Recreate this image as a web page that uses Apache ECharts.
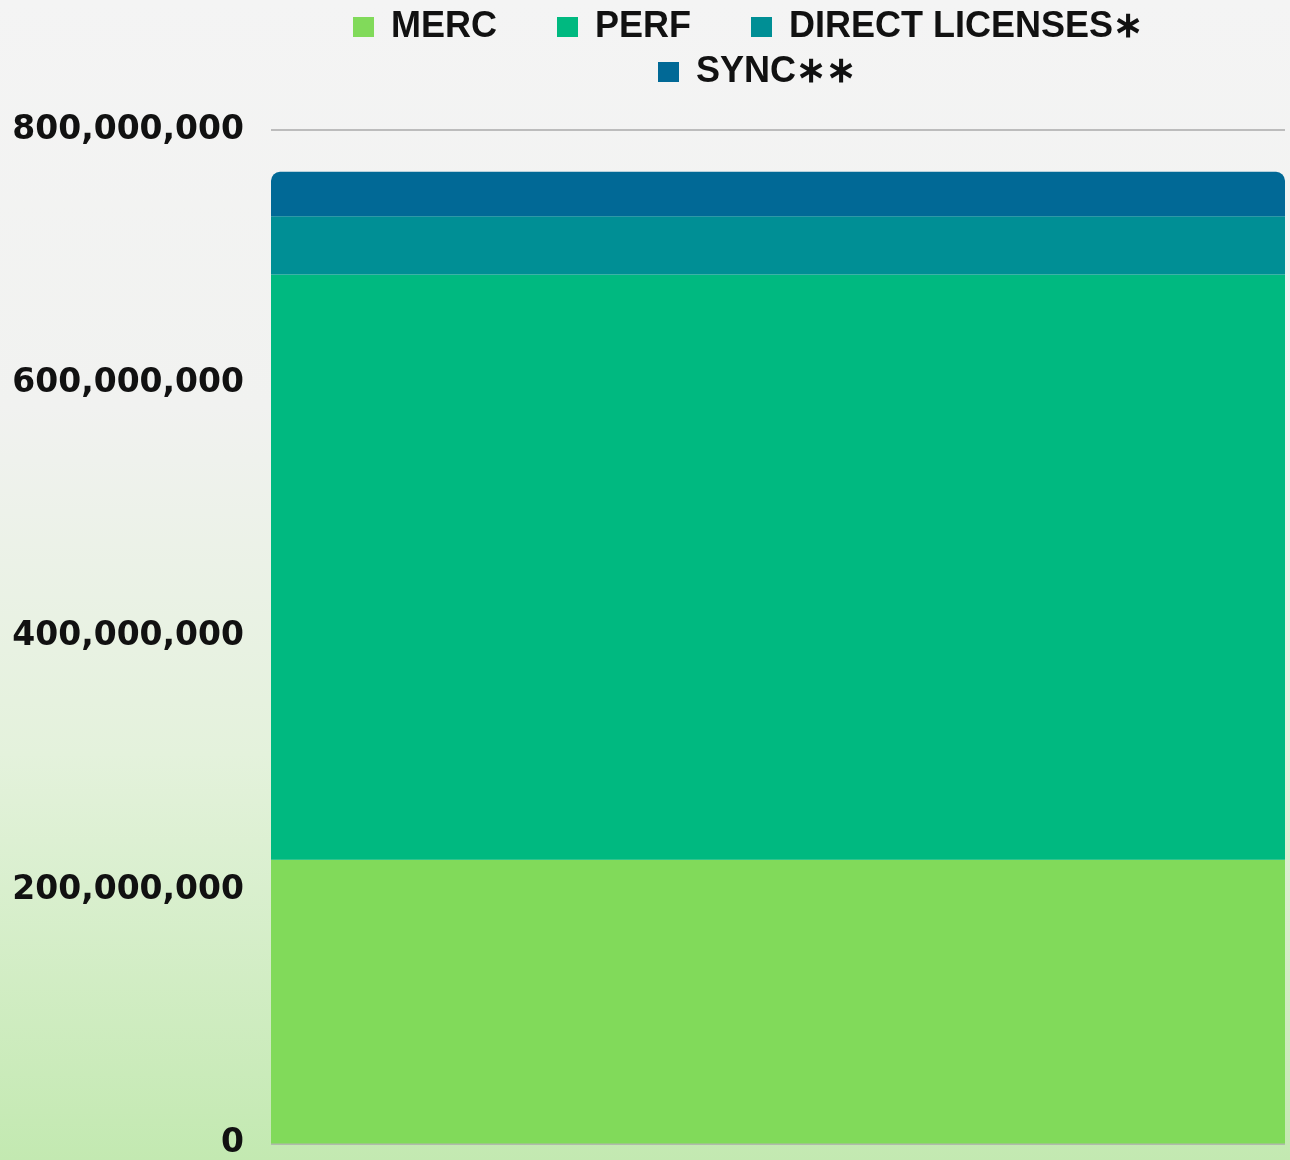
<!DOCTYPE html>
<html>
<head>
<meta charset="utf-8">
<script src="https://cdn.jsdelivr.net/npm/echarts@6/dist/echarts.min.js"></script>
<style>
  html, body { margin: 0; padding: 0; }
  body {
    width: 1290px; height: 1160px;
    background: linear-gradient(to bottom, #f4f4f4 0%, #f1f2f0 35%, #e4f2dc 65%, #c3e9b1 100%);
  }
  #chart { width: 1290px; height: 1160px; }
</style>
</head>
<body>
<div id="chart"></div>
<script>
const categories = ['Total'];
const seriesNames = ['MERC', 'PERF', 'DIRECT LICENSES∗', 'SYNC∗∗'];
const merc = [224000000];
const perf = [462000000];
const direct = [46000000];
const sync = [35000000];
const colors = ['#81da5a', '#00b980', '#008f95', '#016996'];

const chart = echarts.init(document.getElementById('chart'));

const legendText = {
  fontFamily: "'Liberation Sans Narrow', 'Liberation Sans', sans-serif",
  fontWeight: 'bold',
  fontSize: 36,
  color: '#111',
  padding: [0, 0, 0, 12]
};

var option = {
  color: colors,
  legend: [{
    data: seriesNames.slice(0, 3),
    left: 348,
    top: 4,
    itemWidth: 21,
    itemHeight: 20,
    itemGap: 60,
    icon: 'rect',
    textStyle: legendText
  }, {
    data: seriesNames.slice(3),
    left: 653,
    top: 49,
    itemWidth: 21,
    itemHeight: 20,
    icon: 'rect',
    textStyle: legendText
  }],
  grid: {
    left: 271,
    right: 5,
    top: 130,
    bottom: 16,
    containLabel: false
  },
  xAxis: {
    type: 'category',
    data: categories,
    axisLine: { show: false },
    axisTick: { show: false },
    axisLabel: { show: false }
  },
  yAxis: {
    type: 'value',
    min: 0,
    max: 800000000,
    interval: 200000000,
    axisLine: { show: false },
    axisTick: { show: false },
    splitLine: {
      lineStyle: { color: '#aaaaaa', width: 1.5 }
    },
    axisLabel: {
      margin: 27,
      fontFamily: "'DejaVu Sans', sans-serif",
      fontWeight: 'bold',
      fontSize: 33,
      color: '#111',
      formatter: function (v) {
        return v.toLocaleString('en-US');
      }
    }
  },
  series: [
    { name: seriesNames[0], type: 'bar', stack: 'total', data: merc, barWidth: '100%' },
    { name: seriesNames[1], type: 'bar', stack: 'total', data: perf },
    { name: seriesNames[2], type: 'bar', stack: 'total', data: direct },
    { name: seriesNames[3], type: 'bar', stack: 'total', data: sync,
      itemStyle: { borderRadius: [9, 9, 0, 0] } }
  ]
};
chart.setOption(option);
</script>
</body>
</html>
